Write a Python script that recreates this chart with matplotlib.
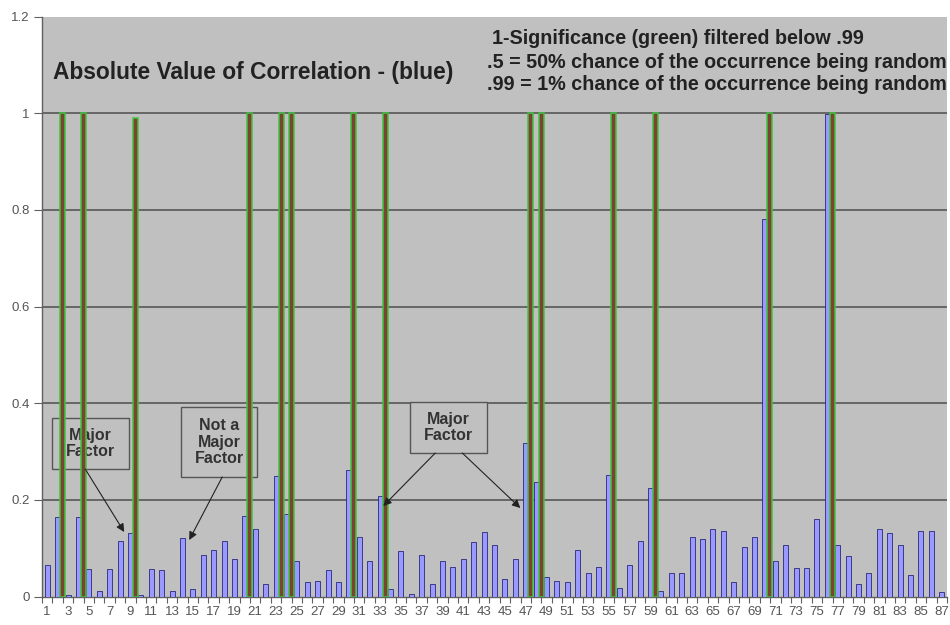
import matplotlib
matplotlib.use("Agg")
import matplotlib.pyplot as plt
from matplotlib.patches import Rectangle

# ---------------- data ----------------
categories = list(range(1, 88))
abs_correlation = [
    0.066, 0.164, 0.003, 0.164, 0.057, 0.012, 0.057, 0.114, 0.132, 0.003,
    0.057, 0.054, 0.012, 0.122, 0.016, 0.085, 0.097, 0.114, 0.078, 0.167,
    0.139, 0.026, 0.249, 0.171, 0.074, 0.029, 0.033, 0.054, 0.029, 0.261,
    0.123, 0.074, 0.208, 0.016, 0.094, 0.005, 0.086, 0.026, 0.074, 0.062,
    0.078, 0.113, 0.134, 0.106, 0.037, 0.077, 0.317, 0.236, 0.041, 0.033,
    0.030, 0.097, 0.049, 0.061, 0.252, 0.017, 0.066, 0.114, 0.224, 0.012,
    0.049, 0.049, 0.123, 0.120, 0.139, 0.135, 0.029, 0.103, 0.123, 0.780,
    0.074, 0.106, 0.060, 0.060, 0.161, 0.998, 0.106, 0.083, 0.026, 0.049,
    0.139, 0.131, 0.106, 0.045, 0.135, 0.135, 0.009]
sig_categories = [2, 4, 9, 20, 23, 24, 30, 33, 47, 48, 55, 59, 70, 76]
sig_values = [1.0, 1.0, 0.99, 1.0, 1.0, 1.0, 1.0, 1.0, 1.0, 1.0, 1.0, 1.0, 1.0, 1.0]
y_ticks = [0, 0.2, 0.4, 0.6, 0.8, 1.0, 1.2]
y_labels = ["0", "0.2", "0.4", "0.6", "0.8", "1", "1.2"]
x_labels = [str(c) for c in categories if c % 2 == 1]

# ---------------- figure ----------------
W, H = 950, 625
fig = plt.figure(figsize=(W / 100, H / 100), dpi=100)
fig.patch.set_facecolor("white")
L, R, T, B = 42, 947, 16.5, 596.5
ax = fig.add_axes([L / W, (H - B) / H, (R - L) / W, (B - T) / H])
ax.set_facecolor("#c0c0c0")
ax.set_xlim(0.5, 87.5)
ax.set_ylim(0, 1.2)

FONT = "Liberation Sans"

# gridlines
for yv in y_ticks[1:-1]:
    ax.axhline(yv, color="#5f5f5f", lw=1.3, zorder=1)

bw = 0.48
ax.bar(categories, abs_correlation, width=bw, color="#9999ff",
       edgecolor="#1c1c70", linewidth=0.55, zorder=3)
ax.bar([c + bw for c in sig_categories], sig_values, width=bw,
       color="#7e4232", edgecolor="#3fc43f", linewidth=1.1, zorder=3)

# axes styling
for s in ["top", "right"]:
    ax.spines[s].set_visible(False)
ax.spines["left"].set_color("#606060")
ax.spines["bottom"].set_color("#606060")
ax.spines["left"].set_linewidth(1.0)
ax.spines["bottom"].set_linewidth(1.0)

ax.set_yticks(y_ticks)
ax.set_yticklabels(y_labels, fontsize=9.5, color="#555555", family=FONT)
ax.tick_params(axis="y", length=6, color="#606060", pad=3)

ax.set_xticks([c + 0.5 for c in range(0, 88)])
ax.set_xticklabels([])
ax.tick_params(axis="x", which="major", length=4, color="#606060")
ax.set_xticks([c for c in categories if c % 2 == 1], minor=True)
ax.set_xticklabels(x_labels, minor=True, fontsize=9.5, color="#555555", family=FONT)
ax.tick_params(axis="x", which="minor", length=0, pad=7)


# ---------------- text ----------------
def fx(px):
    return (px - 47) / 10.40 + 1


def fy(py):
    return (B - py) / (B - T) * 1.2


fig.text(53 / W, 1 - 73 / H, "Absolute Value of Correlation - (blue)",
         fontsize=16.4, fontweight="bold", color="#222222", family=FONT, va="center")
fig.text(492 / W, 1 - 38 / H, "1-Significance (green) filtered below .99",
         fontsize=14.2, fontweight="bold", color="#222222", family=FONT, va="center")
fig.text(487 / W, 1 - 62 / H, ".5 = 50% chance of the occurrence being random",
         fontsize=14.2, fontweight="bold", color="#222222", family=FONT, va="center")
fig.text(487 / W, 1 - 85 / H, ".99 = 1% chance of the occurrence being random",
         fontsize=14.2, fontweight="bold", color="#222222", family=FONT, va="center")


def box(x0, y0, x1, y1, txt):
    ax.add_patch(Rectangle((fx(x0), fy(y1)), fx(x1) - fx(x0), fy(y0) - fy(y1),
                           facecolor="#c0c0c0", edgecolor="#555555", lw=1.0, zorder=2))
    ax.text(fx((x0 + x1) / 2), fy((y0 + y1) / 2), txt, ha="center", va="center",
            fontsize=11.5, fontweight="bold", color="#333333", family=FONT,
            linespacing=1.15, zorder=2)


def arrow(sx, sy, tx, ty):
    ax.annotate("", xy=(fx(tx), fy(ty)), xytext=(fx(sx), fy(sy)),
                arrowprops=dict(arrowstyle="-|>", color="#222222", lw=0.8,
                                mutation_scale=12, shrinkA=0, shrinkB=0), zorder=4)


box(52, 418, 129, 469, "Major\nFactor")
arrow(85, 469, 124, 532)
box(181, 407, 257, 477, "Not a\nMajor\nFactor")
arrow(222, 477, 189, 540)
box(410, 402, 487, 453, "Major\nFactor")
arrow(435, 453, 383, 506)
arrow(462, 453, 520, 508)

fig.savefig("out.png", dpi=100)
